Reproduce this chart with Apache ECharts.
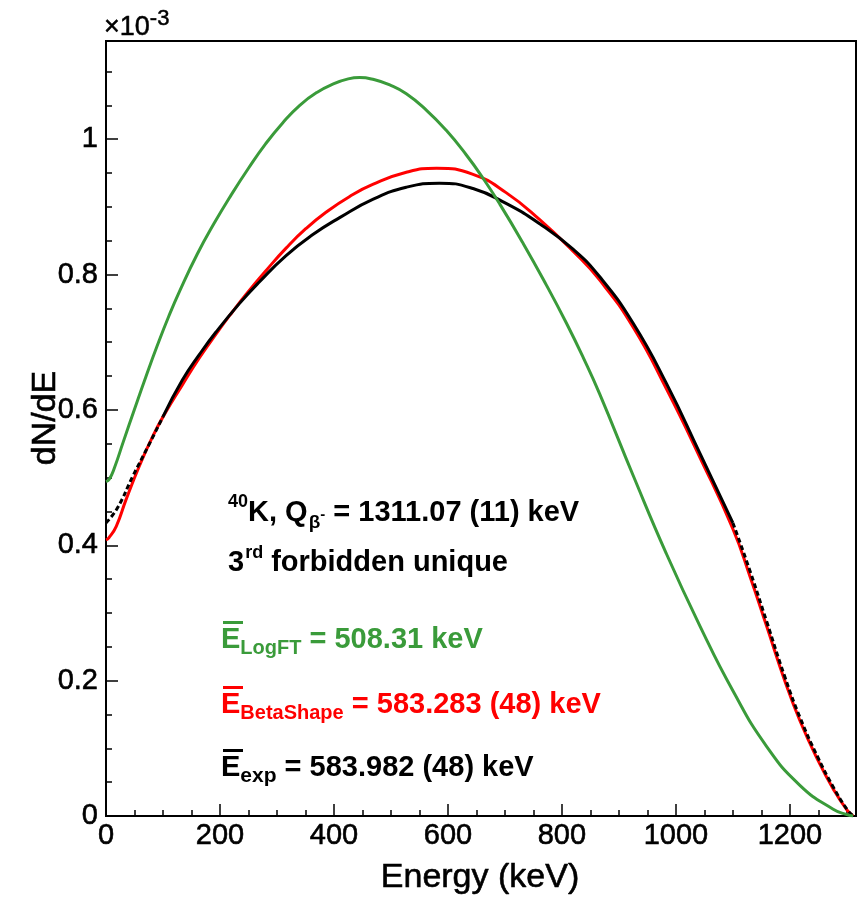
<!DOCTYPE html>
<html><head><meta charset="utf-8">
<script src="https://cdn.jsdelivr.net/npm/echarts@6/dist/echarts.min.js"></script>
<style>html,body{margin:0;padding:0;background:#fff}#c{width:859px;height:901px}</style>
</head><body><div id="c"></div>
<script>
// Energy in keV, dN/dE in units of 1e-3
const logftE = [0, 6, 15, 30, 50, 70, 90, 110, 130, 160, 190, 220, 250, 280, 310, 340, 370, 400, 425, 445, 470, 498, 527, 562, 597, 632, 661, 691, 732, 773, 808, 837, 866, 925, 983, 1042, 1100, 1159, 1218, 1276, 1300, 1311];
const logftV = [0.494, 0.498, 0.515, 0.552, 0.601, 0.649, 0.695, 0.738, 0.777, 0.830, 0.876, 0.918, 0.957, 0.993, 1.024, 1.050, 1.069, 1.082, 1.089, 1.091, 1.088, 1.080, 1.067, 1.043, 1.013, 0.977, 0.943, 0.904, 0.846, 0.784, 0.728, 0.678, 0.624, 0.503, 0.388, 0.281, 0.185, 0.103, 0.045, 0.010, 0.002, 0];

const betaE = [0, 5, 18, 35, 58, 82, 105, 134, 164, 193, 222, 246, 281, 316, 351, 386, 427, 468, 527, 580, 644, 702, 761, 820, 866, 925, 984, 1042, 1100, 1130, 1159, 1191, 1218, 1250, 1276, 1300, 1311];
const betaV = [0.408, 0.411, 0.428, 0.467, 0.516, 0.561, 0.597, 0.637, 0.677, 0.712, 0.745, 0.771, 0.806, 0.839, 0.868, 0.892, 0.915, 0.933, 0.951, 0.957, 0.948, 0.921, 0.881, 0.834, 0.792, 0.722, 0.630, 0.530, 0.424, 0.354, 0.281, 0.200, 0.140, 0.081, 0.040, 0.009, 0];

const expE = [100, 134, 164, 193, 234, 269, 316, 363, 410, 468, 527, 585, 644, 702, 761, 820, 866, 925, 984, 1042, 1100];
const expV = [0.590, 0.644, 0.682, 0.715, 0.757, 0.789, 0.828, 0.859, 0.884, 0.911, 0.929, 0.935, 0.927, 0.905, 0.875, 0.837, 0.797, 0.728, 0.638, 0.536, 0.433];
const expLowE = [0, 20, 47, 75, 100];
const expLowV = [0.433, 0.455, 0.502, 0.548, 0.590];
const expHighE = [1100, 1130, 1159, 1191, 1218, 1250, 1276, 1300, 1311];
const expHighV = [0.433, 0.362, 0.288, 0.206, 0.145, 0.085, 0.043, 0.010, 0];

const xTitle = 'Energy (keV)';
const yTitle = 'dN/dE';

const FONT = '"Liberation Sans", Arial, Helvetica, sans-serif';
const GREEN = '#3a9b3a', RED = '#ff0000', BLACK = '#000000';
const pairs = (xs, ys) => xs.map((x, i) => [x, ys[i]]);

const chart = echarts.init(document.getElementById('c'), null, {renderer: 'canvas'});

const tickStyle = {color: '#000', width: 1.5};
function lineSeries(xs, ys, color, dashed, z) {
  return {type: 'line', data: pairs(xs, ys), symbol: 'none', smooth: 0.5, silent: true, z: z,
    lineStyle: {color: color, width: 3, type: dashed ? [5, 3] : 'solid'}, emphasis: {disabled: true}};
}
const main = (fs) => ({fontSize: fs || 29, fontWeight: 'bold', fontFamily: FONT, lineHeight: 40});
const sub = (fs, shift, padL) => ({fontSize: fs, fontWeight: 'bold', fontFamily: FONT, lineHeight: fs, padding: [shift * 2, 0, 0, padL || 0]});
const sup = (fs, shift, padL) => ({fontSize: fs, fontWeight: 'bold', fontFamily: FONT, lineHeight: fs, padding: [0, 0, shift * 2, padL || 0]});
const labelStyle = {color: '#000', fontSize: 29, fontFamily: FONT, textBorderColor: '#000', textBorderWidth: 0.6};

const option = {
  animation: false,
  backgroundColor: '#fff',
  grid: {left: 106, right: 3, top: 41, bottom: 85, show: true, borderColor: '#000', borderWidth: 2, backgroundColor: 'transparent'},
  xAxis: [
    {type: 'value', min: 0, max: 1316, interval: 200, position: 'bottom',
      axisLine: {show: true, onZero: false, lineStyle: {color: '#000', width: 2}},
      axisTick: {show: true, inside: true, length: 12, lineStyle: tickStyle},
      axisLabel: Object.assign({show: true, margin: 5, showMaxLabel: false, formatter: v => String(v)}, labelStyle),
      splitLine: {show: false}},
    {type: 'value', min: 0, max: 1316, interval: 50, position: 'bottom',
      axisLine: {show: false, onZero: false},
      axisTick: {show: true, inside: true, length: 6, lineStyle: tickStyle},
      axisLabel: {show: false}, splitLine: {show: false}}
  ],
  yAxis: [
    {type: 'value', min: 0, max: 1.145, interval: 0.2, position: 'left',
      axisLine: {show: true, onZero: false, lineStyle: {color: '#000', width: 2}},
      axisTick: {show: true, inside: true, length: 12, lineStyle: tickStyle},
      axisLabel: Object.assign({show: true, margin: 8, showMaxLabel: false, formatter: v => String(+v.toFixed(2))}, labelStyle),
      splitLine: {show: false}},
    {type: 'value', min: 0, max: 1.145, interval: 0.05, position: 'left',
      axisLine: {show: false, onZero: false},
      axisTick: {show: true, inside: true, length: 6, lineStyle: tickStyle},
      axisLabel: {show: false}, splitLine: {show: false}}
  ],
  series: [
    lineSeries(betaE, betaV, RED, false, 2),
    lineSeries(expE, expV, BLACK, false, 3),
    lineSeries(expLowE, expLowV, BLACK, true, 3),
    lineSeries(expHighE, expHighV, BLACK, true, 3),
    lineSeries(logftE, logftV, GREEN, false, 4)
  ],
  graphic: [
    {type: 'text', x: 104, y: 27.5, z: 10, style: {text: '{a|×10}{b|-3}', fill: '#000', stroke: '#000', lineWidth: 0.5, align: 'left', verticalAlign: 'middle',
      rich: {a: {fontSize: 27, fontFamily: FONT, lineHeight: 40}, b: {fontSize: 22, fontFamily: FONT, lineHeight: 22, padding: [0, 0, 17, 0]}}}},
    {type: 'text', x: 46, y: 418, rotation: Math.PI / 2, z: 10, style: {text: yTitle, fill: '#000', fontSize: 34, fontFamily: FONT, align: 'center', verticalAlign: 'middle', stroke: '#000', lineWidth: 0.6}},
    {type: 'text', x: 480, y: 878, z: 10, style: {text: xTitle, fill: '#000', fontSize: 34, fontFamily: FONT, align: 'center', verticalAlign: 'middle', stroke: '#000', lineWidth: 0.6}},
    {type: 'text', x: 228, y: 513, z: 10, style: {text: '{p|40}{a|K, Q}{s|β}{m|-}{a| = 1311.07 (11) keV}', fill: BLACK, align: 'left', verticalAlign: 'middle',
      rich: {p: sup(18, 11), a: main(), s: sub(19, 10, 1), m: sup(15, -2)}}},
    {type: 'text', x: 228, y: 563, z: 10, style: {text: '{a|3}{p|rd}{a| forbidden unique}', fill: BLACK, align: 'left', verticalAlign: 'middle',
      rich: {a: main(), p: sup(18, 10, 1)}}},
    {type: 'text', x: 221, y: 640, z: 10, style: {text: '{a|E}{s|LogFT}{a| = 508.31 keV}', fill: GREEN, align: 'left', verticalAlign: 'middle',
      rich: {a: main(), s: sub(20, 8)}}},
    {type: 'text', x: 221, y: 705, z: 10, style: {text: '{a|E}{s|BetaShape}{a| = 583.283 (48) keV}', fill: RED, align: 'left', verticalAlign: 'middle',
      rich: {a: main(), s: sub(20, 8)}}},
    {type: 'text', x: 221, y: 768, z: 10, style: {text: '{a|E}{s|exp}{a| = 583.982 (48) keV}', fill: BLACK, align: 'left', verticalAlign: 'middle',
      rich: {a: main(), s: sub(21, 8)}}},
    {type: 'rect', z: 10, shape: {x: 223, y: 621, width: 20, height: 3}, style: {fill: GREEN}},
    {type: 'rect', z: 10, shape: {x: 223, y: 686, width: 20, height: 3}, style: {fill: RED}},
    {type: 'rect', z: 10, shape: {x: 223, y: 749, width: 20, height: 3}, style: {fill: BLACK}}
  ]
};
chart.setOption(option);
</script></body></html>
